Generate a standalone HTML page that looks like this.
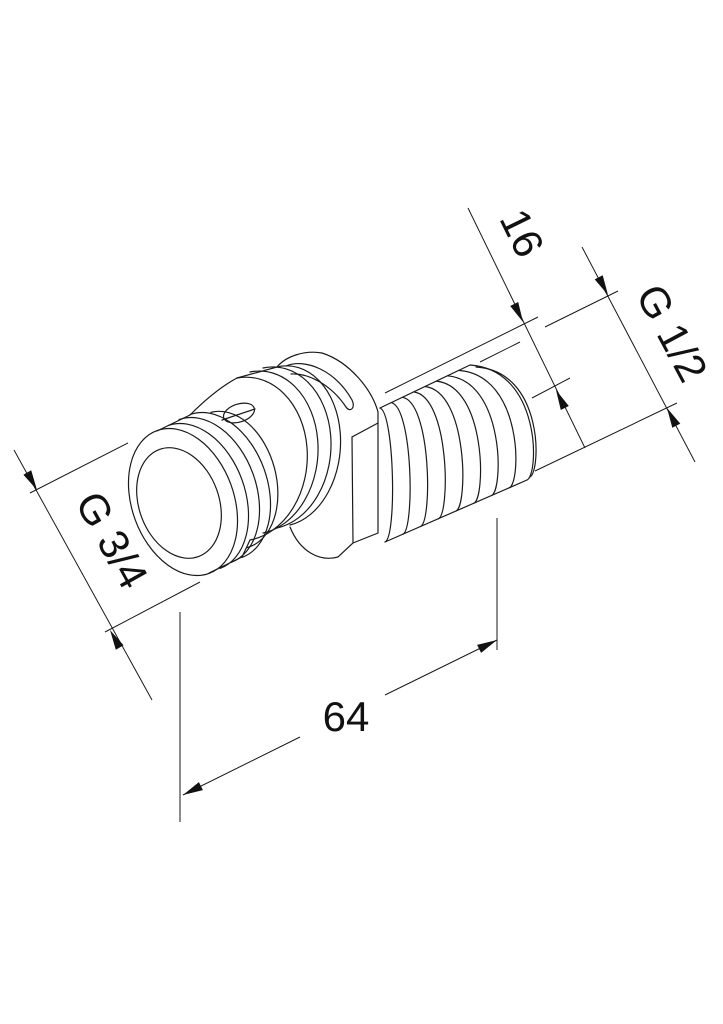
<!DOCTYPE html>
<html><head><meta charset="utf-8"><style>
html,body{margin:0;padding:0;background:#fff;}
svg{display:block;}
text{font-family:"Liberation Sans",sans-serif;fill:#111;}
</style></head><body>
<svg width="723" height="1024" viewBox="0 0 723 1024" xmlns="http://www.w3.org/2000/svg">
<g fill="none" stroke="#1a1a1a" stroke-width="1.2" stroke-linecap="round">
<ellipse cx="183" cy="502" rx="51" ry="76" transform="rotate(-20 183 502)"/>
<ellipse cx="179" cy="503" rx="40" ry="57" transform="rotate(-20 179 503)"/>
<path d="M0,-76 A51,76 0 0 1 0,76" transform="translate(194,497) rotate(-20)"/>
<path d="M0,-76 A51,76 0 0 1 0,76" transform="translate(205,491) rotate(-20)"/>
<path d="M0,-76 A51,76 0 0 1 0,76" transform="translate(216,486) rotate(-20)"/>
<line x1="157" y1="431" x2="190" y2="415"/>
<line x1="209" y1="573" x2="242" y2="557"/>
<path d="M0,-70 A47,70 0 0 1 0,70" transform="translate(229,480) rotate(-15)"/>
<path d="M190,415 C205,400 222,386 237,378"/>
<line x1="242" y1="557" x2="250" y2="540"/>
<ellipse cx="239" cy="413" rx="16" ry="9" transform="rotate(-18 239 413)"/>
<line x1="222" y1="420" x2="255" y2="409"/>
<path d="M237,378 A63,81 4.6 0 1 250,540"/>
<path d="M250,372 A61,81 4.6 0 1 263,533"/>
<path d="M263,368 A60,80 4.6 0 1 277,528"/>
<path d="M277,367 A56,79 4.6 0 1 290,525"/>
<line x1="237" y1="378" x2="277" y2="367"/>
<path d="M277,367 C286,356 305,350 322,353 C350,362 372,390 378,412 L378,533 L353,543"/>
<path d="M290,527 C300,552 320,562 338,557 L353,543 L352,437 L378,423"/>
<path d="M286,366 C305,358 335,370 352,400 C356,408 350,413 346,407 C332,386 310,373 291,374"/>
<line x1="380" y1="408" x2="470" y2="365"/>
<line x1="385" y1="542" x2="527" y2="480"/>
<path d="M380,408 C394.3,413 397,537 385,542"/>
<path d="M391.3,402.6 C412.8,407.6 414.8,529.3 402.8,534.3"/>
<path d="M402.5,397.3 C431.1,402.3 432.5,521.5 420.5,526.5"/>
<path d="M413.8,391.9 C449.6,396.9 450.3,513.8 438.3,518.8"/>
<path d="M425,386.5 C467.9,391.5 468,506 456,511"/>
<path d="M436.3,381.1 C486.4,386.1 485.8,498.3 473.8,503.3"/>
<path d="M447.5,375.8 C504.7,380.8 503.5,490.5 491.5,495.5"/>
<path d="M458.8,370.4 C523.2,375.4 521.3,482.8 509.3,487.8"/>
<path d="M470,365 C541.5,370 539,475 527,480"/>
<path d="M476,367 C544,371 541,472 530,477"/>
</g>
<g fill="none" stroke="#1a1a1a" stroke-width="1">
<line x1="14" y1="450" x2="152" y2="700"/>
<line x1="30" y1="493" x2="128" y2="443"/>
<line x1="105" y1="632" x2="200" y2="582"/>
<line x1="180" y1="612" x2="180" y2="822"/>
<line x1="497" y1="518" x2="497" y2="650"/>
<line x1="183" y1="795" x2="300" y2="737"/>
<line x1="385" y1="695" x2="497" y2="640"/>
<line x1="468" y1="208" x2="585" y2="448"/>
<line x1="582" y1="247" x2="695" y2="462"/>
<line x1="385" y1="393" x2="538" y2="317"/>
<line x1="545" y1="327" x2="618" y2="291"/>
<line x1="480" y1="362" x2="520" y2="342"/>
<line x1="532" y1="398" x2="570" y2="378"/>
<line x1="535" y1="471" x2="677" y2="403"/>
</g>
<g fill="#111" stroke="none">
<polygon points="183,795 202.9,790.1 198.9,782.1"/>
<polygon points="497,640 481.1,652.9 477.1,644.9"/>
<polygon points="37,490 31.2,470.3 23.4,474.7"/>
<polygon points="110,630 123.6,645.3 115.8,649.7"/>
<polygon points="523,322 518.2,302 510.2,306"/>
<polygon points="556,390 568.8,406 560.8,410"/>
<polygon points="608,295 602.7,275.2 594.7,279.4"/>
<polygon points="667,408 680.3,423.6 672.3,427.8"/>
</g>
<text x="346" y="731" font-size="42" text-anchor="middle">64</text>
<text x="0" y="0" font-size="42" text-anchor="middle" dominant-baseline="central" transform="translate(112,540) rotate(61)">G 3/4</text>
<text x="0" y="0" font-size="42" text-anchor="middle" dominant-baseline="central" transform="translate(522,233) rotate(64)">16</text>
<text x="0" y="0" font-size="42" text-anchor="middle" dominant-baseline="central" transform="translate(672,333) rotate(62)">G 1/2</text>
</svg>
</body></html>
